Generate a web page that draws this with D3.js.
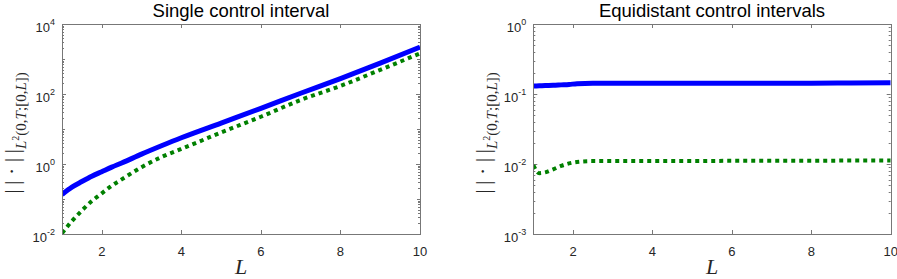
<!DOCTYPE html>
<html>
<head>
<meta charset="utf-8">
<script src="https://cdn.jsdelivr.net/npm/d3@7"></script>
<style>
  body { margin: 0; background: #fff; }
  svg { display: block; }
</style>
</head>
<body>
<svg id="chart" width="897" height="279"></svg>
<script>
// values
const lSingle = [1, 1.25, 1.5, 1.75, 2, 2.25, 2.5, 3, 3.5, 4, 5, 6, 7, 8, 9, 10];
const singleBlue = [0.135, 0.219, 0.316, 0.447, 0.603, 0.813, 1.07, 1.91, 3.31, 5.62, 14.8, 38.9, 105, 275, 759, 2190];
const singleGreen = [0.0105, 0.0234, 0.0468, 0.0871, 0.145, 0.240, 0.363, 0.813, 1.58, 2.69, 7.94, 22.4, 67.6, 170, 490, 1445];

const lEqui = [1, 1.15, 1.3, 1.5, 1.7, 1.9, 2.1, 2.5, 3, 4, 5, 6, 7, 8, 9, 10];
const equiBlue = [0.130, 0.131, 0.132, 0.133, 0.135, 0.137, 0.140, 0.142, 0.142, 0.142, 0.142, 0.142, 0.143, 0.143, 0.144, 0.145];
const equiGreen = [0.0096, 0.0074, 0.0076, 0.0084, 0.0094, 0.0102, 0.0107, 0.0110, 0.0110, 0.0110, 0.0110, 0.0111, 0.0111, 0.0111, 0.0112, 0.0112];

const xTicks = [2, 4, 6, 8, 10];
const singleExps = [-2, 0, 2, 4];
const equiExps = [-3, -2, -1, 0];
const titles = ["Single control interval", "Equidistant control intervals"];

const svg = d3.select("#chart");
const plotTop = 24, plotBottom = 234;
const axisColor = "#777";
const textColor = "#262626";

const panels = [
    { left: 62, right: 420, title: titles[0], L: lSingle, blue: singleBlue, green: singleGreen,
      yDomain: [1e-2, 1e4], exps: singleExps },
    { left: 533.3, right: 890.7, title: titles[1], L: lEqui, blue: equiBlue, green: equiGreen,
      yDomain: [1e-3, 1], exps: equiExps }
];

panels.forEach((p, i) => {
    const x = d3.scaleLinear().domain([1, 10]).range([p.left, p.right]);
    const y = d3.scaleLog().domain(p.yDomain).range([plotBottom, plotTop]);
    const g = svg.append("g");

    const clipId = "clip" + i;
    svg.append("clipPath").attr("id", clipId)
      .append("rect")
        .attr("x", p.left).attr("y", plotTop)
        .attr("width", p.right - p.left).attr("height", plotBottom - plotTop);

    // minor + major log ticks
    const lo = Math.round(Math.log10(p.yDomain[0]));
    const hi = Math.round(Math.log10(p.yDomain[1]));
    const tickG = g.append("g").attr("stroke", axisColor).attr("stroke-width", 1);
    for (let e = lo; e <= hi; e++) {
        for (let k = 1; k <= 9; k++) {
            const v = k * Math.pow(10, e);
            if (v > p.yDomain[1] * 1.0001) continue;
            const yy = Math.round(y(v)) + 0.5;
            const len = (k === 1 && p.exps.includes(e)) ? 4 : (k === 1 ? 3 : 2);
            tickG.append("line").attr("x1", p.left).attr("x2", p.left + len).attr("y1", yy).attr("y2", yy);
            tickG.append("line").attr("x1", p.right).attr("x2", p.right - len).attr("y1", yy).attr("y2", yy);
        }
    }
    xTicks.forEach(t => {
        const xx = Math.round(x(t)) + 0.5;
        tickG.append("line").attr("x1", xx).attr("x2", xx).attr("y1", plotBottom).attr("y2", plotBottom - 4);
        tickG.append("line").attr("x1", xx).attr("x2", xx).attr("y1", plotTop).attr("y2", plotTop + 4);
    });

    // curves
    const line = d3.line()
        .curve(d3.curveMonotoneX)
        .x((d, j) => x(p.L[j]))
        .y(d => y(d));

    const curves = g.append("g").attr("clip-path", `url(#${clipId})`);
    curves.append("path")
        .datum(p.blue)
        .attr("fill", "none")
        .attr("stroke", "#0000ff")
        .attr("stroke-width", 5)
        .attr("d", line);
    curves.append("path")
        .datum(p.green)
        .attr("fill", "none")
        .attr("stroke", "#008000")
        .attr("stroke-width", 4)
        .attr("stroke-dasharray", "4 4")
        .attr("d", line);

    // box
    g.append("rect")
        .attr("x", Math.round(p.left) + 0.5).attr("y", plotTop + 0.5)
        .attr("width", Math.round(p.right) - Math.round(p.left)).attr("height", plotBottom - plotTop)
        .attr("fill", "none")
        .attr("stroke", axisColor)
        .attr("stroke-width", 1);

    // x tick labels
    g.selectAll(".xl").data(xTicks).enter().append("text")
        .attr("x", d => x(d))
        .attr("y", 256)
        .attr("text-anchor", "middle")
        .attr("font-family", "Liberation Sans, Arial, sans-serif")
        .attr("font-size", 13)
        .attr("fill", textColor)
        .text(d => d);

    // y tick labels 10^n
    p.exps.forEach(e => {
        const t = g.append("text")
            .attr("x", p.left - 7)
            .attr("y", y(Math.pow(10, e)) + 7.5)
            .attr("text-anchor", "end")
            .attr("font-family", "Liberation Sans, Arial, sans-serif")
            .attr("font-size", 13)
            .attr("fill", textColor);
        t.append("tspan").text("10");
        t.append("tspan").attr("font-size", 9).attr("dy", -7).text(e);
    });

    // title
    g.append("text")
        .attr("x", (p.left + p.right) / 2)
        .attr("y", 17)
        .attr("text-anchor", "middle")
        .attr("font-family", "Liberation Sans, Arial, sans-serif")
        .attr("font-size", 18.5)
        .attr("fill", "#000")
        .text(p.title);

    // x label
    g.append("text")
        .attr("x", (p.left + p.right) / 2)
        .attr("y", 274)
        .attr("text-anchor", "middle")
        .attr("font-family", "Liberation Serif, serif")
        .attr("font-style", "italic")
        .attr("font-size", 22)
        .attr("fill", textColor)
        .text("L");

    // y label ||.||_{L^2(0,T;[0,L])}
    const yl = g.append("text")
        .attr("transform", `translate(${p.left - 43},133) rotate(-90)`)
        .attr("text-anchor", "middle")
        .attr("font-family", "Liberation Serif, serif")
        .attr("font-size", 22)
        .attr("fill", textColor);
    yl.append("tspan").text("|\u2009|\u00a0\u00b7\u00a0|\u2009|");
    yl.append("tspan").attr("font-size", 15).attr("dy", 7).attr("font-style", "italic").text("L");
    yl.append("tspan").attr("font-size", 10).attr("dy", -7).text("2");
    yl.append("tspan").attr("font-size", 15).attr("dy", 7).text("(0,");
    yl.append("tspan").attr("font-size", 15).attr("font-style", "italic").text("T");
    yl.append("tspan").attr("font-size", 15).text(";[0,");
    yl.append("tspan").attr("font-size", 15).attr("font-style", "italic").text("L");
    yl.append("tspan").attr("font-size", 15).text("])");
});
</script>
</body>
</html>
